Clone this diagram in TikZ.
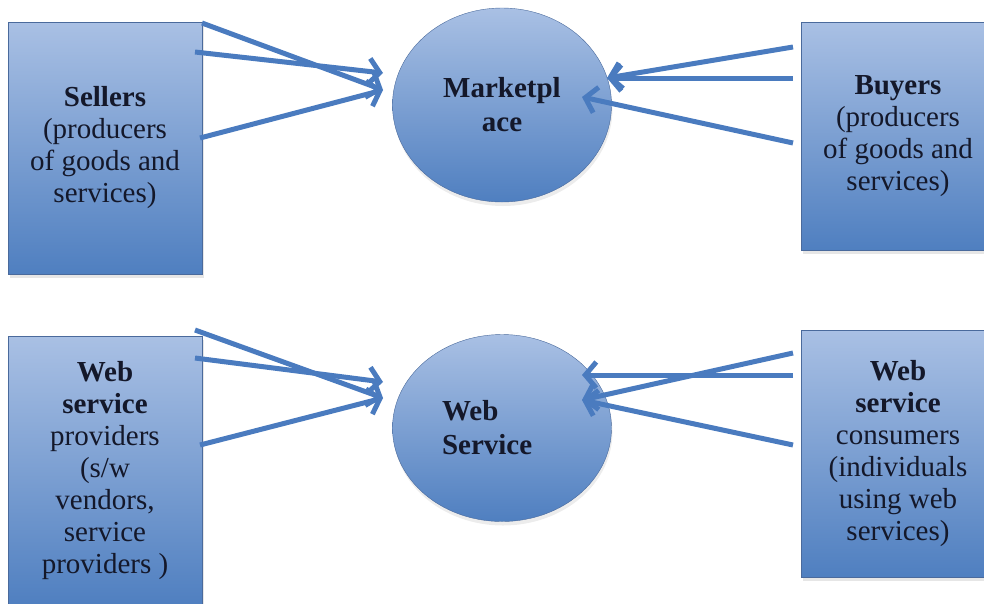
\documentclass[tikz,border=0pt]{standalone}
\usepackage{fontspec}
\setmainfont{Liberation Serif}
\usetikzlibrary{arrows.meta}
\usetikzlibrary{positioning,shapes.geometric,shadows}
\definecolor{boxtop}{HTML}{A9C0E4}
\definecolor{boxbottom}{HTML}{4F7FC0}
\definecolor{boxline}{HTML}{4A6A9C}
\definecolor{arrowblue}{HTML}{4A7BBF}
\definecolor{inktext}{HTML}{14182A}
\tikzset{
    party/.style={
        draw=boxline,
        thin,
        rectangle,
        top color=boxtop,
        bottom color=boxbottom,
        minimum width=194pt,
        align=center,
        inner sep=0pt,
        text=inktext,
        font=\fontsize{29}{32}\selectfont,
        drop shadow={shadow xshift=2pt, shadow yshift=-4pt, opacity=0.2}
    },
    hub/.style={
        draw=boxline,
        thin,
        ellipse,
        top color=boxtop,
        bottom color=boxbottom,
        minimum width=219pt,
        inner sep=0pt,
        text=inktext,
        font=\bfseries\fontsize{29}{34}\selectfont,
        drop shadow={shadow xshift=1pt, shadow yshift=-4pt, opacity=0.15}
    },
    flow/.style={
        line width=5pt,
        arrowblue,
        -{Straight Barb[length=11pt, width=26pt]}
    }
}

\begin{document}
\begin{tikzpicture}[x=1pt, y=-1pt]
  \useasboundingbox (0,0) rectangle (984,603);

  % Marketplace row
  \node[party, minimum height=252pt] (sellers) at (105,148)
    {\textbf{Sellers}\\(producers\\of goods and\\services)};
  \node[party, minimum height=228pt] (buyers) at (898,136)
    {\textbf{Buyers}\\(producers\\of goods and\\services)};
  \node[hub, minimum height=194pt, align=center] (market) at (502,105)
    {Marketpl\\ace};

  % Web service row
  \node[party, minimum height=270pt] (providers) at (105,471)
    {\textbf{Web}\\\textbf{service}\\providers\\(s/w\\vendors,\\service\\providers )};
  \node[party, minimum height=247pt] (consumers) at (898,453.5)
    {\textbf{Web}\\\textbf{service}\\consumers\\(individuals\\using web\\services)};
  \node[hub, minimum height=187pt, align=left, text width=120pt] (websvc) at (502,428)
    {Web\\Service};

  % Arrow ends
  \coordinate (sl1) at (202,23);
  \coordinate (sl2) at (195,52);
  \coordinate (sl3) at (200,138);
  \coordinate (ml1) at (383,90);
  \coordinate (ml2) at (383,73);
  \coordinate (br1) at (793,47);
  \coordinate (br2) at (793,78);
  \coordinate (br3) at (793,143);
  \coordinate (mr1) at (607,78);
  \coordinate (mr2) at (582,97);

  \coordinate (pl1) at (195,330);
  \coordinate (pl2) at (195,358);
  \coordinate (pl3) at (200,445);
  \coordinate (wl1) at (383,398);
  \coordinate (wl2) at (383,382);
  \coordinate (cr1) at (793,353);
  \coordinate (cr2) at (793,375);
  \coordinate (cr3) at (793,445);
  \coordinate (wr1) at (582,375);
  \coordinate (wr2) at (582,400);

  % Sellers and buyers to marketplace
  \draw[flow] (sl1) -- (ml1);
  \draw[flow] (sl2) -- (ml2);
  \draw[flow] (sl3) -- (ml1);
  \draw[flow] (br1) -- (mr1);
  \draw[flow] (br2) -- (mr1);
  \draw[flow] (br3) -- (mr2);

  % Providers and consumers to web service
  \draw[flow] (pl1) -- (wl1);
  \draw[flow] (pl2) -- (wl2);
  \draw[flow] (pl3) -- (wl1);
  \draw[flow] (cr1) -- (wr2);
  \draw[flow] (cr2) -- (wr1);
  \draw[flow] (cr3) -- (wr2);
\end{tikzpicture}
\end{document}
